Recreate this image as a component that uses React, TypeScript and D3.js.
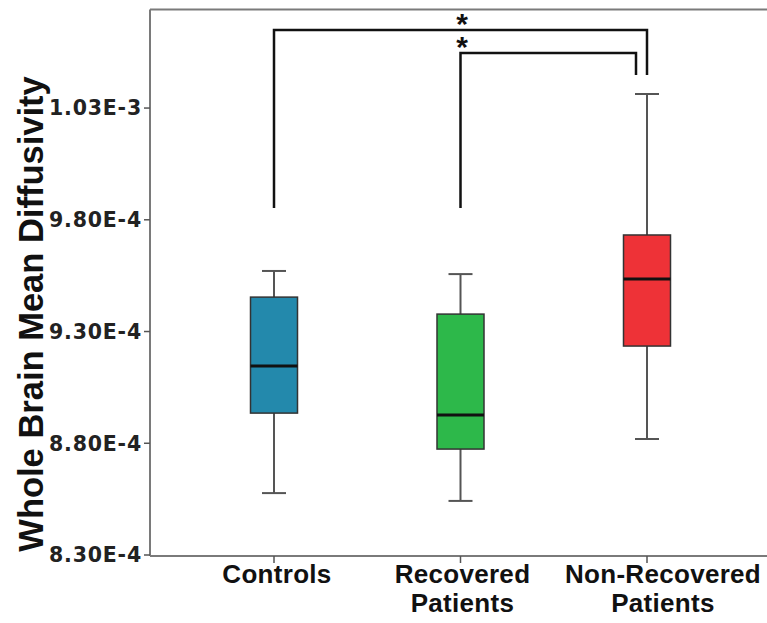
import React from "react";
import * as d3 from "d3";

const categories = ["Controls", "Recovered Patients", "Non-Recovered Patients"];
const labelLines = [["Controls"], ["Recovered", "Patients"], ["Non-Recovered", "Patients"]];
const whiskerLow = [8.577e-4, 8.542e-4, 8.819e-4];
const q1 = [8.935e-4, 8.774e-4, 9.235e-4];
const medians = [9.146e-4, 8.926e-4, 9.535e-4];
const q3 = [9.454e-4, 9.378e-4, 9.732e-4];
const whiskerHigh = [9.571e-4, 9.557e-4, 1.0363e-3];
const boxColors = ["#2389ac", "#2db84a", "#ee3237"];
const yTicks = [8.3e-4, 8.8e-4, 9.3e-4, 9.8e-4, 1.03e-3];
const yTickLabels = ["8.30E-4", "8.80E-4", "9.30E-4", "9.80E-4", "1.03E-3"];
// significance brackets
const brackets = [
  { from: 0, to: 2, bar: 1.0649e-3, leftEnd: 9.853e-4, rightEnd: 1.0448e-3, rightShift: 0 },
  { from: 1, to: 2, bar: 1.0546e-3, leftEnd: 9.853e-4, rightEnd: 1.0448e-3, rightShift: -11 },
];

export default function App() {
  const W = 767, H = 623;
  const left = 150, right = 767, top = 9.5, bottom = 556;
  const y = d3.scaleLinear().domain([8.3e-4, 1.0741e-3]).range([555, top]);
  const x = d3.scalePoint<number>().domain([0, 1, 2]).range([274, 647]);
  const labelShift = [3, 2, 16];
  const bw = 47;
  const capW = 24;
  const font = "'Liberation Sans', Arial, sans-serif";
  return (
    <svg width={W} height={H} style={{ position: "absolute", left: 0, top: 0 }}>
      <rect width={W} height={H} fill="#fff" />
      <line x1={left} x2={right} y1={top} y2={top} stroke="#7a7a7a" strokeWidth={2} />
      <line x1={left} x2={right} y1={bottom} y2={bottom} stroke="#7a7a7a" strokeWidth={2} />
      <line x1={left} x2={left} y1={top} y2={bottom} stroke="#7a7a7a" strokeWidth={2} />
      {yTicks.map((t, i) => (
        <g key={i}>
          <line x1={144} x2={left} y1={y(t)} y2={y(t)} stroke="#555" strokeWidth={1.5} />
          <text x={142} y={y(t)} dy="0.36em" textAnchor="end" fontFamily="'DejaVu Sans', sans-serif"
            fontWeight="bold" fontSize={20.5} letterSpacing={0.8} fill="#222">{yTickLabels[i]}</text>
        </g>
      ))}
      <text transform={`translate(43,314) rotate(-90)`} textAnchor="middle" fontFamily={font}
        fontWeight="bold" fontSize={34.5} fill="#111">Whole Brain Mean Diffusivity</text>
      {categories.map((c, i) => (
        <g key={c}>
          <line x1={x(i)} x2={x(i)} y1={bottom} y2={bottom + 7} stroke="#555" strokeWidth={1.5} />
          {labelLines[i].map((l, j) => (
            <text key={j} x={x(i)! + labelShift[i]} y={583 + j * 29} textAnchor="middle" fontFamily={font}
              fontWeight="bold" fontSize={26} letterSpacing={0.3} fill="#111">{l}</text>
          ))}
        </g>
      ))}
      {categories.map((c, i) => {
        const cx = x(i)!;
        return (
          <g key={c}>
            <line x1={cx} x2={cx} y1={y(whiskerHigh[i])} y2={y(q3[i])} stroke="#555" strokeWidth={2} />
            <line x1={cx} x2={cx} y1={y(q1[i])} y2={y(whiskerLow[i])} stroke="#555" strokeWidth={2} />
            <line x1={cx - capW / 2} x2={cx + capW / 2} y1={y(whiskerHigh[i])} y2={y(whiskerHigh[i])} stroke="#555" strokeWidth={2} />
            <line x1={cx - capW / 2} x2={cx + capW / 2} y1={y(whiskerLow[i])} y2={y(whiskerLow[i])} stroke="#555" strokeWidth={2} />
            <rect x={cx - bw / 2} y={y(q3[i])} width={bw} height={y(q1[i]) - y(q3[i])}
              fill={boxColors[i]} stroke="#333" strokeWidth={1.5} />
            <line x1={cx - bw / 2} x2={cx + bw / 2} y1={y(medians[i])} y2={y(medians[i])} stroke="#111" strokeWidth={3} />
          </g>
        );
      })}
      {brackets.map((b, i) => {
        const x1 = x(b.from)!, x2 = x(b.to)! + b.rightShift;
        return (
          <g key={i}>
            <path d={`M${x1},${y(b.leftEnd)}V${y(b.bar)}H${x2}V${y(b.rightEnd)}`} fill="none" stroke="#111" strokeWidth={2.5} />
            <text x={462} y={y(b.bar) + 4} textAnchor="middle" fontFamily={font}
              fontWeight="bold" fontSize={30} fill="#111">*</text>
          </g>
        );
      })}
    </svg>
  );
}
